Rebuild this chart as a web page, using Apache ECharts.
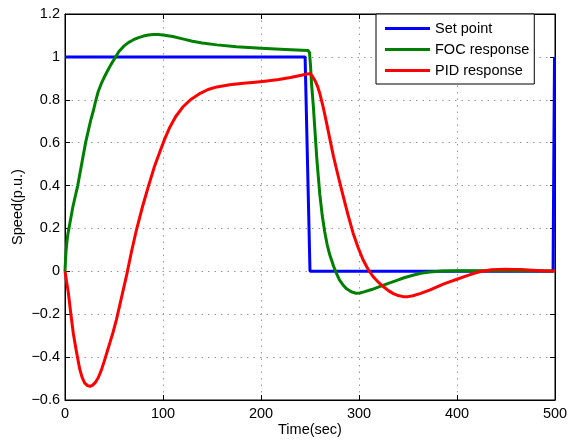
<!DOCTYPE html>
<html>
	<head>
		<meta charset="utf-8">
		<title>speed response</title>
		<script src="https://cdn.jsdelivr.net/npm/echarts@6/dist/echarts.min.js"></script>
		<style>
			body { margin: 0; background: #fff; }
		</style>
	</head>
	<body>
		<div id="box" style="width: 568px;height: 441px;"></div>
		<script>
			var mCharts = echarts.init(document.querySelector('#box'))

			// 图例名称
			var seriesNames = ['Set point', 'FOC response', 'PID response']

			// 设定值 [时间, 速度]
			var setPoint = [[0, 1], [245, 1], [250, 0], [498, 0], [499.5, 1]]

			// FOC 响应
			var focData = [
				[0, 0], [0.5, 0.05], [1, 0.09], [2, 0.14], [3, 0.175], [4, 0.2], [6, 0.25], [8, 0.3],
				[10.5, 0.35], [13, 0.4], [15, 0.45], [17, 0.5], [19, 0.55], [21, 0.6], [23.5, 0.65],
				[26, 0.7], [29, 0.75], [31.6, 0.8], [34, 0.84], [37, 0.875], [40, 0.905], [44, 0.94],
				[47, 0.965], [51, 0.995], [55, 1.025], [60, 1.05], [65, 1.068], [70, 1.08], [75, 1.09],
				[80, 1.097], [85, 1.102], [90, 1.104], [95, 1.104], [100, 1.102], [110, 1.095],
				[120, 1.084], [130, 1.073], [140, 1.065], [155, 1.056], [175, 1.047], [200, 1.04],
				[225, 1.035], [248, 1.03], [249.5, 1.02], [250.5, 0.96], [251.5, 0.88], [253.4, 0.77],
				[255, 0.66], [256.8, 0.535], [258.5, 0.44], [260, 0.36], [262.5, 0.26], [265, 0.185],
				[267.5, 0.125], [270, 0.08], [274, 0.025], [277, -0.01], [280, -0.04], [283.5, -0.062],
				[287, -0.08], [292, -0.095], [297, -0.102], [301, -0.101], [305, -0.096], [313, -0.085],
				[321, -0.071], [330, -0.056], [338, -0.043], [346, -0.03], [355, -0.018], [363, -0.009],
				[372, -0.003], [385, 0.001], [400, 0.003], [450, 0.003], [500, 0.002]
			]

			// PID 响应
			var pidData = [
				[0, 0], [1.5, -0.045], [3.4, -0.1], [6, -0.2], [8.5, -0.29], [11.5, -0.37], [15, -0.455],
				[17.5, -0.495], [20, -0.52], [23, -0.533], [25.5, -0.536], [28, -0.532], [31, -0.518],
				[34, -0.495], [37, -0.462], [40, -0.42], [43, -0.375], [46, -0.33], [49, -0.285],
				[52.5, -0.225], [56, -0.155], [59.5, -0.085], [63, -0.015], [65.5, 0.04], [68, 0.095],
				[73, 0.195], [79, 0.3], [85, 0.395], [91, 0.485], [97, 0.56], [102, 0.62], [107, 0.672],
				[113, 0.722], [120, 0.765], [128, 0.8], [138, 0.83], [146, 0.848], [155, 0.86],
				[168, 0.87], [182, 0.877], [194, 0.882], [206, 0.888], [218, 0.895], [230, 0.904],
				[240, 0.913], [247, 0.92], [250, 0.922], [252.5, 0.91], [255, 0.89], [257.5, 0.865],
				[260, 0.83], [263.5, 0.765], [267, 0.69], [270.5, 0.612], [274, 0.535], [279, 0.44],
				[284, 0.348], [289, 0.26], [294, 0.178], [299, 0.112], [304, 0.055], [308, 0.02],
				[311, -0.003], [315, -0.028], [320, -0.052], [325, -0.072], [330, -0.09], [335, -0.104],
				[340, -0.113], [345, -0.118], [350, -0.118], [355, -0.114], [363, -0.103], [372, -0.088],
				[379, -0.074], [386, -0.06], [393, -0.048], [400, -0.037], [406, -0.027], [412, -0.018],
				[417.5, -0.009], [423, -0.002], [429, 0.003], [435, 0.007], [442, 0.009], [450, 0.01],
				[458, 0.009], [465, 0.008], [473, 0.006], [481, 0.004], [490, 0.002], [500, 0.001]
			]

			var font = 'Liberation Sans, Arial, Helvetica, sans-serif'
			var gridLine = { show: true, lineStyle: { color: '#999', type: [1.5, 5], width: 1 } }
			var frameLine = { show: true, onZero: false, lineStyle: { color: '#000', width: 1 } }
			var tick = { show: true, inside: true, length: 5, lineStyle: { color: '#000' } }

			var option = {
				animation: false,
				textStyle: { fontFamily: font },
				grid: {
					left: 65, right: 13, top: 14, bottom: 41,
					outerBoundsMode: 'none',
					containLabel: false,
					show: true, borderColor: '#000', borderWidth: 1, backgroundColor: 'transparent'
				},
				legend: {
					data: seriesNames,
					orient: 'vertical',
					left: 376,
					top: 14,
					padding: [7, 5, 6, 9],
					itemGap: 6,
					itemWidth: 45,
					itemHeight: 3,
					icon: 'rect',
					borderColor: '#000',
					borderWidth: 1,
					backgroundColor: '#fff',
					textStyle: { fontSize: 14.5, color: '#000', fontFamily: font }
				},
				xAxis: [
					{
						type: 'value',
						min: 0,
						max: 500,
						interval: 100,
						name: 'Time(sec)',
						nameLocation: 'middle',
						nameGap: 22,
						nameMoveOverlap: false,
						nameTextStyle: { fontSize: 14.5, color: '#000' },
						axisLine: frameLine,
						axisTick: tick,
						axisLabel: { fontSize: 14.5, color: '#000', margin: 6 },
						splitLine: gridLine
					},
					{
						type: 'value',
						position: 'top',
						min: 0,
						max: 500,
						interval: 100,
						axisLine: frameLine,
						axisTick: tick,
						axisLabel: { show: false },
						splitLine: { show: false }
					}
				],
				yAxis: [
					{
						type: 'value',
						min: -0.6,
						max: 1.2,
						interval: 0.2,
						name: 'Speed(p.u.)',
						nameLocation: 'middle',
						nameGap: 40,
						nameMoveOverlap: false,
						nameTextStyle: { fontSize: 14.5, color: '#000' },
						axisLine: frameLine,
						axisTick: tick,
						axisLabel: {
							fontSize: 14.5,
							color: '#000',
							margin: 5,
							formatter: function (v) {
								var s = String(Math.round(v * 10) / 10)
								return s.replace('-', '\u2212')
							}
						},
						splitLine: gridLine
					},
					{
						type: 'value',
						position: 'right',
						min: -0.6,
						max: 1.2,
						interval: 0.2,
						axisLine: frameLine,
						axisTick: tick,
						axisLabel: { show: false },
						splitLine: { show: false }
					}
				],
				series: [
					{
						name: seriesNames[0],
						type: 'line',
						data: setPoint,
						showSymbol: false,
						itemStyle: { color: '#0000ff' },
						lineStyle: { color: '#0000ff', width: 3 }
					},
					{
						name: seriesNames[1],
						type: 'line',
						data: focData,
						showSymbol: false,
						itemStyle: { color: '#008000' },
						lineStyle: { color: '#008000', width: 3, join: 'round' }
					},
					{
						name: seriesNames[2],
						type: 'line',
						data: pidData,
						showSymbol: false,
						itemStyle: { color: '#ff0000' },
						lineStyle: { color: '#ff0000', width: 3, join: 'round' }
					}
				]
			}
			mCharts.setOption(option)
		</script>
	</body>
</html>
